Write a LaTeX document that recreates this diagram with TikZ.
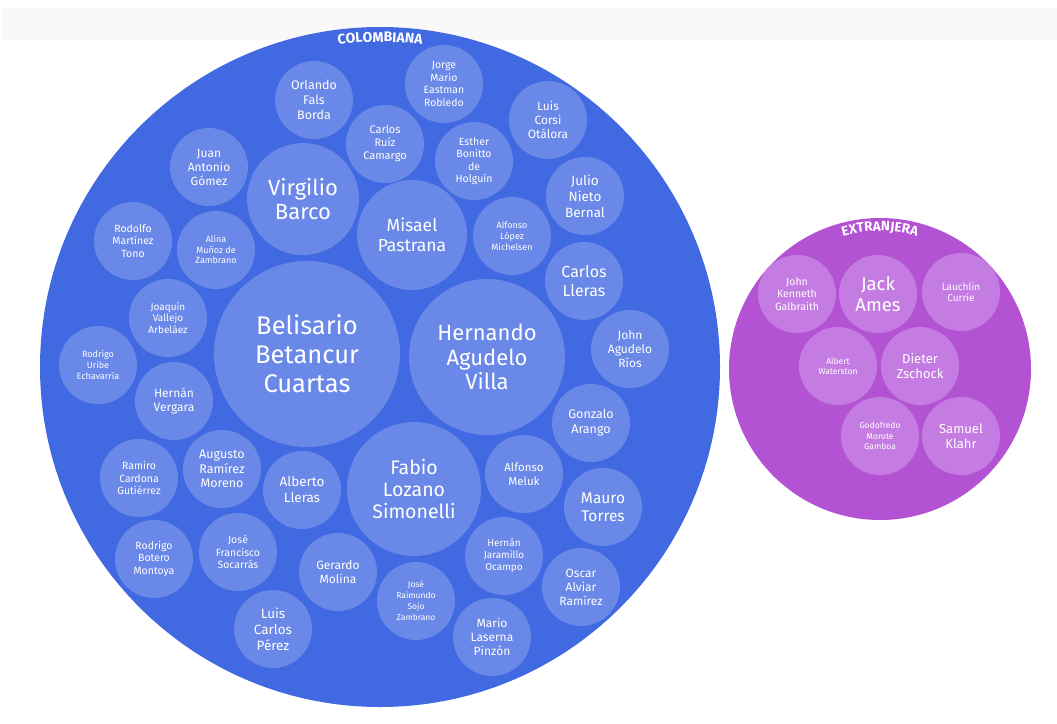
\documentclass[tikz,border=0pt]{standalone}
\usepackage{fontspec}
\setmainfont{Fira Sans}
\usetikzlibrary{decorations.text}
\definecolor{colbg}{HTML}{4169E1}
\definecolor{colin}{HTML}{6A88E8}
\definecolor{extbg}{HTML}{B452D4}
\definecolor{extin}{HTML}{C57CE2}
\definecolor{band}{HTML}{F9F9F9}
\newcommand\fz[2]{\fontsize{#1}{#2}\selectfont}
\tikzset{
  bub/.style={circle, inner sep=0pt, minimum size=78pt, align=center, text=white},
  cb/.style={bub, fill=colin},
  eb/.style={bub, fill=extin},
  outer/.style={circle, inner sep=0pt},
}
\begin{document}
\begin{tikzpicture}[x=1pt,y=-1pt]
\useasboundingbox (0,0) rectangle (1057,723);
\fill[band] (3,8) rectangle (1057,40);

% Colombiana
\node[outer, fill=colbg, minimum size=680pt] (colombiana) at (380,367) {};
\path[decorate, decoration={text along path, text align=center,
  text={|\color{white}\fz{14}{14}\bfseries|COLOMBIANA}}]
  (323.6,46.9) arc[start angle=260, end angle=280, radius=325];

\node[cb, minimum size=186pt, font=\fz{25.5}{29}] (belisario) at (307,354) {Belisario\\Betancur\\Cuartas};
\node[cb, minimum size=156pt, font=\fz{22}{24.5}] (hernando) at (487,357) {Hernando\\Agudelo\\Villa};
\node[cb, minimum size=134pt, font=\fz{19.5}{22}] (fabio) at (414,489) {Fabio\\Lozano\\Simonelli};
\node[cb, minimum size=112pt, font=\fz{22}{24}] (virgilio) at (303,199) {Virgilio\\Barco};
\node[cb, minimum size=110pt, font=\fz{17.5}{20}] (misael) at (412,235) {Misael\\Pastrana};

\node[cb, font=\fz{12.5}{15}] (orlando) at (314,100) {Orlando\\Fals\\Borda};
\node[cb, font=\fz{10.5}{12.5}] (jorge) at (444,84) {Jorge\\Mario\\Eastman\\Robledo};
\node[cb, font=\fz{11}{13}] (carlosr) at (385,144) {Carlos\\Ruíz\\Camargo};
\node[cb, font=\fz{10.5}{12.5}] (esther) at (474,161) {Esther\\Bonitto\\de\\Holguín};
\node[cb, font=\fz{12}{14}] (luisc) at (548,120) {Luis\\Corsi\\Otálora};
\node[cb, font=\fz{13.5}{16}] (julio) at (585,196) {Julio\\Nieto\\Bernal};
\node[cb, font=\fz{9}{11}] (alfonsol) at (512,236) {Alfonso\\López\\Michelsen};
\node[cb, font=\fz{16}{19}] (carlosl) at (584,281) {Carlos\\Lleras};
\node[cb, font=\fz{12}{14}] (johna) at (630,349) {John\\Agudelo\\Ríos};
\node[cb, font=\fz{12.5}{15}] (gonzalo) at (591,423) {Gonzalo\\Arango};
\node[cb, font=\fz{11.5}{13.5}] (meluk) at (524,474) {Alfonso\\Meluk};
\node[cb, font=\fz{15.5}{18.5}] (mauro) at (603,507) {Mauro\\Torres};
\node[cb, font=\fz{10}{12}] (jaramillo) at (504,556) {Hernán\\Jaramillo\\Ocampo};
\node[cb, font=\fz{12}{14}] (oscar) at (581,587) {Oscar\\Alviar\\Ramírez};
\node[cb, font=\fz{12}{14}] (mario) at (492,637) {Mario\\Laserna\\Pinzón};
\node[cb, font=\fz{8.5}{11}] (sojo) at (416,601) {José\\Raimundo\\Sojo\\Zambrano};
\node[cb, font=\fz{12}{14.5}] (gerardo) at (338,572) {Gerardo\\Molina};
\node[cb, font=\fz{13.5}{16}] (luisp) at (273,629) {Luis\\Carlos\\Pérez};
\node[cb, font=\fz{10.5}{12.5}] (socarras) at (238,552) {José\\Francisco\\Socarrás};
\node[cb, font=\fz{10.5}{12.5}] (botero) at (154,559) {Rodrigo\\Botero\\Montoya};
\node[cb, font=\fz{13.5}{16}] (alberto) at (302,490) {Alberto\\Lleras};
\node[cb, font=\fz{12.5}{14.5}] (augusto) at (222,469) {Augusto\\Ramírez\\Moreno};
\node[cb, font=\fz{10.5}{12.5}] (ramiro) at (139,478) {Ramiro\\Cardona\\Gutiérrez};
\node[cb, font=\fz{12}{13.5}] (vergara) at (174,401) {Hernán\\Vergara};
\node[cb, font=\fz{9}{10.7}] (uribe) at (98,365) {Rodrigo\\Uribe\\Echavarría};
\node[cb, font=\fz{10}{11.7}] (joaquin) at (168,318) {Joaquín\\Vallejo\\Arbeláez};
\node[cb, font=\fz{10.5}{12.3}] (rodolfo) at (133,241) {Rodolfo\\Martínez\\Tono};
\node[cb, font=\fz{9}{10.5}] (alina) at (216,250) {Alina\\Muñoz de\\Zambrano};
\node[cb, font=\fz{12}{14}] (juan) at (209,167) {Juan\\Antonio\\Gómez};

% Extranjera
\node[outer, fill=extbg, minimum size=302pt] (extranjera) at (880,369) {};
\path[decorate, decoration={text along path, text align=center,
  text={|\color{white}\fz{13.5}{14}\bfseries|EXTRANJERA}}]
  (832.8,239.3) arc[start angle=250, end angle=290, radius=138];

\node[eb, font=\fz{10.5}{12.5}] (galbraith) at (797,294) {John\\Kenneth\\Galbraith};
\node[eb, font=\fz{18.5}{20.5}] (jack) at (878,294) {Jack\\Ames};
\node[eb, font=\fz{10}{11.5}] (lauchlin) at (961,292) {Lauchlin\\Currie};
\node[eb, font=\fz{8.5}{10}] (waterston) at (838,366) {Albert\\Waterston};
\node[eb, font=\fz{13}{15}] (dieter) at (920,366) {Dieter\\Zschock};
\node[eb, font=\fz{8.5}{10.7}] (godofredo) at (880,436) {Godofredo\\Morote\\Gamboa};
\node[eb, font=\fz{13}{15}] (samuel) at (961,436) {Samuel\\Klahr};
\end{tikzpicture}
\end{document}
